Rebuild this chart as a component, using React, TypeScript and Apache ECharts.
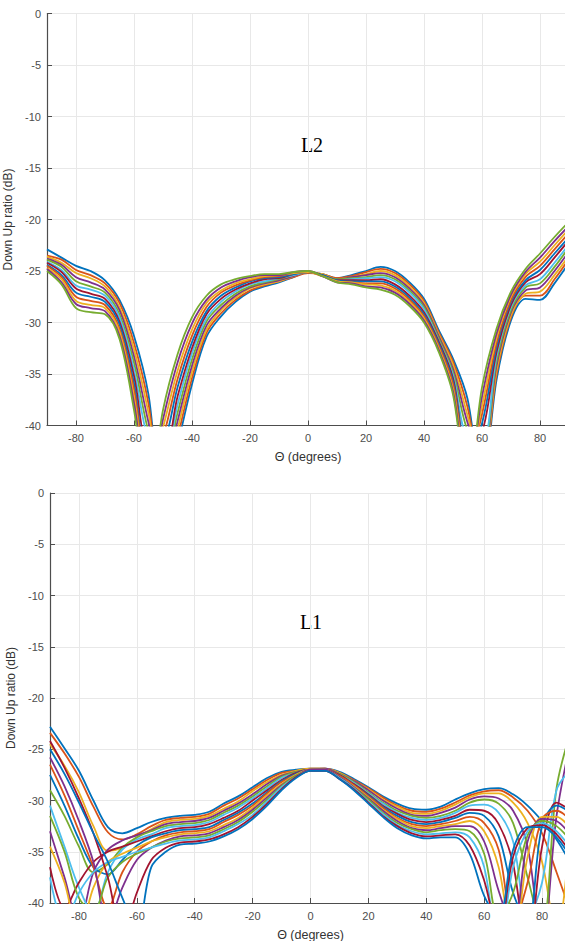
import React, { useEffect, useRef } from 'react';
import * as echarts from 'echarts';

// Angle samples (degrees) shared by every curve
const THETA = [-90, -85, -80, -75, -70, -65, -60, -55, -50, -45, -40, -35, -30, -25, -20, -15, -10, -5, 0, 5, 10, 15, 20, 25, 30, 35, 40, 45, 50, 55, 60, 65, 70, 75, 80, 85, 90];
const X_TICKS = [-80, -60, -40, -20, 0, 20, 40, 60, 80];

// ---- L2 (upper panel) curves, dB ----
const l2c00 = [-22.9, -23.7, -24.5, -25.0, -25.9, -27.8, -31.3, -37.0, -48.0, -42.0, -36.0, -31.4, -29.4, -28.0, -27.0, -26.5, -26.1, -25.6, -25.1, -25.3, -25.7, -25.4, -25.0, -24.6, -25.0, -26.1, -27.7, -30.7, -33.5, -37.4, -46.0, -35.6, -29.8, -27.7, -27.8, -26.2, -24.2];
const l2c01 = [-23.5, -23.9, -24.9, -25.4, -26.2, -28.1, -32.0, -37.9, -47.1, -41.2, -35.4, -31.0, -29.1, -27.8, -26.9, -26.4, -26.0, -25.6, -25.2, -25.3, -25.7, -25.5, -25.1, -24.8, -25.2, -26.3, -27.9, -30.9, -33.8, -38.2, -45.1, -35.1, -29.5, -27.4, -27.4, -25.8, -23.8];
const l2c02 = [-23.6, -24.2, -25.2, -25.7, -26.5, -28.5, -32.6, -38.8, -46.3, -40.4, -34.8, -30.7, -28.8, -27.6, -26.7, -26.3, -26.0, -25.5, -25.1, -25.3, -25.8, -25.6, -25.3, -25.0, -25.4, -26.5, -28.1, -31.1, -34.1, -39.0, -44.2, -34.7, -29.3, -27.2, -27.0, -25.4, -23.5];
const l2c03 = [-23.8, -24.4, -25.6, -26.1, -26.8, -28.8, -33.3, -39.7, -45.4, -39.6, -34.2, -30.3, -28.6, -27.4, -26.6, -26.2, -25.9, -25.5, -25.1, -25.4, -25.8, -25.6, -25.4, -25.2, -25.6, -26.7, -28.3, -31.3, -34.5, -39.7, -43.4, -34.2, -29.0, -26.9, -26.6, -25.0, -23.1];
const l2c04 = [-23.9, -24.6, -26.0, -26.5, -27.1, -29.2, -33.9, -40.6, -44.5, -38.8, -33.6, -29.9, -28.3, -27.2, -26.5, -26.1, -25.8, -25.4, -25.1, -25.4, -25.8, -25.7, -25.6, -25.4, -25.8, -26.9, -28.5, -31.5, -34.8, -40.5, -42.5, -33.8, -28.8, -26.6, -26.2, -24.6, -22.7];
const l2c05 = [-24.1, -24.9, -26.4, -26.8, -27.4, -29.5, -34.6, -41.5, -43.7, -38.0, -33.0, -29.6, -28.0, -27.0, -26.3, -26.0, -25.7, -25.4, -25.1, -25.4, -25.9, -25.8, -25.7, -25.6, -26.0, -27.1, -28.7, -31.7, -35.1, -41.3, -41.6, -33.3, -28.5, -26.4, -25.8, -24.2, -22.4];
const l2c06 = [-24.2, -25.1, -26.7, -27.2, -27.7, -29.9, -35.2, -42.5, -42.8, -37.2, -32.5, -29.2, -27.7, -26.8, -26.2, -25.8, -25.7, -25.3, -25.1, -25.4, -25.9, -25.9, -25.9, -25.8, -26.3, -27.4, -29.0, -31.8, -35.4, -42.1, -40.7, -32.9, -28.3, -26.1, -25.3, -23.7, -22.0];
const l2c07 = [-24.4, -25.4, -27.1, -27.5, -28.0, -30.2, -35.9, -43.4, -42.0, -36.3, -31.9, -28.9, -27.4, -26.6, -26.0, -25.7, -25.6, -25.3, -25.1, -25.4, -25.9, -26.0, -26.0, -26.0, -26.5, -27.6, -29.2, -32.0, -35.7, -42.9, -39.8, -32.4, -28.0, -25.9, -24.9, -23.3, -21.7];
const l2c08 = [-24.5, -25.6, -27.5, -27.9, -28.3, -30.6, -36.5, -44.3, -41.1, -35.5, -31.3, -28.5, -27.1, -26.4, -25.9, -25.6, -25.5, -25.2, -25.1, -25.5, -26.0, -26.1, -26.2, -26.2, -26.7, -27.8, -29.4, -32.2, -36.0, -43.7, -38.9, -32.0, -27.8, -25.6, -24.5, -22.9, -21.3];
const l2c09 = [-24.7, -25.8, -27.9, -28.3, -28.6, -30.9, -37.2, -45.2, -40.2, -34.7, -30.7, -28.1, -26.9, -26.2, -25.8, -25.5, -25.4, -25.2, -25.1, -25.5, -26.0, -26.1, -26.3, -26.4, -26.9, -28.0, -29.6, -32.4, -36.4, -44.4, -38.1, -31.5, -27.5, -25.3, -24.1, -22.5, -20.9];
const l2c10 = [-24.8, -26.1, -28.2, -28.6, -28.9, -31.3, -37.8, -46.1, -39.4, -33.9, -30.1, -27.8, -26.6, -26.0, -25.6, -25.4, -25.4, -25.1, -25.0, -25.5, -26.1, -26.2, -26.5, -26.6, -27.1, -28.2, -29.8, -32.6, -36.7, -45.2, -37.2, -31.1, -27.3, -25.1, -23.7, -22.1, -20.6];
const l2c11 = [-25.0, -26.3, -28.6, -29.0, -29.2, -31.6, -38.5, -47.0, -38.5, -33.1, -29.5, -27.4, -26.3, -25.8, -25.5, -25.3, -25.3, -25.1, -25.0, -25.5, -26.1, -26.3, -26.6, -26.8, -27.3, -28.4, -30.0, -32.8, -37.0, -46.0, -36.3, -30.6, -27.0, -24.8, -23.3, -21.7, -20.2];
const L2_CURVES = [l2c00, l2c01, l2c02, l2c03, l2c04, l2c05, l2c06, l2c07, l2c08, l2c09, l2c10, l2c11];

// ---- L1 (lower panel) curves, dB ----
const l1c00 = [-22.8, -24.9, -27.1, -30.0, -32.6, -33.2, -32.7, -32.1, -31.7, -31.5, -31.4, -31.1, -30.3, -29.6, -28.7, -27.8, -27.2, -27.0, -26.9, -26.9, -27.2, -27.9, -28.7, -29.6, -30.3, -30.8, -30.9, -30.6, -29.9, -29.3, -28.9, -28.8, -29.4, -30.5, -32.0, -33.8, -36.2];
const l1c01 = [-23.4, -25.4, -27.7, -30.6, -33.1, -33.8, -33.3, -32.5, -31.9, -31.7, -31.6, -31.3, -30.5, -29.8, -28.9, -28.0, -27.3, -27.1, -26.9, -26.9, -27.3, -28.0, -28.8, -29.7, -30.5, -31.0, -31.1, -30.8, -30.2, -29.5, -29.1, -29.0, -29.7, -31.0, -33.2, -37.0, -41.0];
const l1c02 = [-24.5, -26.6, -29.2, -32.5, -34.9, -34.6, -33.6, -32.8, -32.1, -31.9, -31.8, -31.5, -30.8, -30.1, -29.1, -28.2, -27.5, -27.1, -26.9, -26.9, -27.3, -28.1, -28.9, -29.9, -30.6, -31.2, -31.3, -31.0, -30.4, -29.7, -29.3, -29.3, -30.2, -32.2, -36.0, -43.0, -32.0];
const l1c03 = [-33.0, -37.5, -42.0, -37.0, -34.8, -33.9, -33.4, -32.9, -32.3, -32.1, -32.0, -31.7, -31.0, -30.3, -29.4, -28.4, -27.6, -27.2, -27.0, -26.9, -27.4, -28.1, -29.0, -30.0, -30.8, -31.4, -31.5, -31.2, -30.7, -29.9, -29.6, -29.8, -31.0, -34.5, -44.0, -31.5, -24.0];
const l1c04 = [-29.0, -31.5, -34.5, -37.0, -36.2, -34.6, -33.6, -33.0, -32.5, -32.3, -32.2, -31.9, -31.2, -30.5, -29.6, -28.6, -27.7, -27.2, -27.0, -27.0, -27.4, -28.2, -29.2, -30.2, -31.0, -31.5, -31.7, -31.5, -31.0, -30.2, -29.9, -30.3, -32.2, -37.5, -42.5, -28.8, -23.2];
const l1c05 = [-30.5, -34.5, -38.5, -41.0, -37.0, -34.8, -33.8, -33.3, -32.7, -32.5, -32.4, -32.1, -31.4, -30.7, -29.8, -28.8, -27.8, -27.3, -27.0, -27.0, -27.5, -28.3, -29.3, -30.3, -31.2, -31.7, -31.9, -31.7, -31.2, -30.5, -30.4, -31.2, -34.0, -41.5, -38.0, -29.0, -27.0];
const l1c06 = [-36.5, -40.5, -38.0, -36.0, -35.0, -34.5, -34.0, -33.5, -33.0, -32.7, -32.6, -32.3, -31.7, -31.0, -30.0, -29.0, -28.0, -27.3, -27.0, -27.0, -27.5, -28.4, -29.4, -30.5, -31.3, -31.9, -32.1, -31.9, -31.5, -30.9, -31.0, -32.3, -36.2, -45.0, -34.5, -30.2, -31.0];
const l1c07 = [-27.5, -30.5, -33.8, -36.5, -37.2, -35.8, -34.4, -33.6, -33.2, -32.9, -32.8, -32.6, -31.9, -31.2, -30.3, -29.2, -28.1, -27.4, -27.0, -27.0, -27.6, -28.5, -29.5, -30.6, -31.5, -32.1, -32.3, -32.1, -31.7, -31.2, -31.5, -33.5, -39.0, -42.0, -32.5, -30.5, -31.2];
const l1c08 = [-26.5, -29.5, -33.0, -36.5, -40.5, -37.0, -35.0, -34.0, -33.4, -33.1, -33.0, -32.8, -32.1, -31.4, -30.5, -29.3, -28.2, -27.5, -27.0, -27.0, -27.6, -28.5, -29.6, -30.7, -31.7, -32.3, -32.5, -32.3, -32.0, -31.6, -32.2, -34.8, -42.0, -38.0, -31.8, -31.0, -32.0];
const l1c09 = [-34.5, -38.0, -43.0, -38.5, -36.0, -35.2, -34.6, -34.0, -33.6, -33.3, -33.2, -33.0, -32.4, -31.7, -30.7, -29.5, -28.4, -27.5, -27.0, -27.0, -27.7, -28.6, -29.7, -30.9, -31.8, -32.5, -32.7, -32.5, -32.3, -32.0, -33.0, -36.5, -44.0, -35.5, -31.6, -31.6, -32.8];
const l1c10 = [-25.8, -28.6, -32.0, -36.0, -42.0, -38.5, -35.8, -34.6, -33.9, -33.5, -33.4, -33.2, -32.6, -31.9, -30.9, -29.7, -28.5, -27.6, -27.0, -27.0, -27.7, -28.7, -29.8, -31.0, -32.0, -32.7, -32.9, -32.7, -32.5, -32.5, -34.0, -38.8, -42.5, -34.0, -31.8, -32.0, -33.5];
const l1c11 = [-31.5, -35.0, -39.5, -40.8, -37.5, -36.0, -35.2, -34.6, -34.0, -33.7, -33.6, -33.4, -32.8, -32.1, -31.1, -29.9, -28.6, -27.6, -27.1, -27.1, -27.8, -28.8, -29.9, -31.2, -32.2, -32.8, -33.1, -32.9, -32.8, -33.0, -35.2, -41.5, -39.0, -33.4, -32.0, -32.5, -34.0];
const l1c12 = [-37.5, -42.0, -39.0, -37.0, -36.0, -35.5, -35.0, -34.6, -34.2, -33.9, -33.8, -33.6, -33.0, -32.3, -31.4, -30.1, -28.7, -27.7, -27.1, -27.1, -27.8, -28.8, -30.1, -31.3, -32.4, -33.0, -33.3, -33.2, -33.1, -33.6, -36.5, -44.5, -36.5, -33.0, -32.2, -33.0, -34.7];
const l1c13 = [-24.2, -26.8, -29.8, -33.2, -37.5, -43.0, -39.0, -35.8, -34.6, -34.1, -34.0, -33.8, -33.3, -32.6, -31.6, -30.3, -28.9, -27.7, -27.1, -27.1, -27.9, -28.9, -30.2, -31.5, -32.5, -33.2, -33.5, -33.4, -33.3, -34.4, -37.8, -43.0, -35.5, -32.7, -32.4, -33.3, -35.2];
const l1c14 = [-25.0, -27.4, -30.2, -33.2, -36.0, -39.5, -42.5, -36.5, -35.0, -34.3, -34.2, -34.0, -33.5, -32.8, -31.8, -30.5, -29.0, -27.8, -27.1, -27.1, -27.9, -29.0, -30.3, -31.6, -32.7, -33.4, -33.7, -33.6, -33.6, -35.2, -39.3, -41.5, -34.8, -32.6, -32.6, -33.6, -35.6];
const L1_CURVES = [l1c00, l1c01, l1c02, l1c03, l1c04, l1c05, l1c06, l1c07, l1c08, l1c09, l1c10, l1c11, l1c12, l1c13, l1c14];

const PALETTE = ['#0072BD', '#D95319', '#EDB120', '#7E2F8E', '#77AC30', '#4DBEEE', '#A2142F'];
const AXIS_COLOR = '#4d4d4d';
const FONT = '"Liberation Sans", Arial, Helvetica, sans-serif';

export default function App() {
  const ref = useRef<HTMLDivElement>(null);

  useEffect(() => {
    if (!ref.current) return;
    const chart = echarts.init(ref.current, null, { renderer: 'svg' });

    const makeX = (gridIndex: number) => ({
      type: 'value',
      gridIndex,
      min: -90,
      max: 90,
      name: 'Θ (degrees)',
      nameLocation: 'middle',
      nameGap: 25,
      nameTextStyle: { color: '#333', fontSize: 12.5, fontFamily: FONT },
      axisLine: { show: true, onZero: false, lineStyle: { color: AXIS_COLOR, width: 1.2 } },
      axisTick: { show: true, inside: true, length: 5, customValues: X_TICKS, lineStyle: { color: AXIS_COLOR } },
      axisLabel: { customValues: X_TICKS, color: '#4d4d4d', fontSize: 11, fontFamily: FONT, margin: 7 },
      splitLine: { show: true, lineStyle: { color: '#e8e8e8', width: 1 } },
    });
    const makeY = (gridIndex: number) => ({
      type: 'value',
      gridIndex,
      min: -40,
      max: 0,
      interval: 5,
      name: 'Down Up ratio (dB)',
      nameLocation: 'middle',
      nameGap: 27,
      nameTextStyle: { color: '#333', fontSize: 12, fontFamily: FONT },
      axisLine: { show: true, onZero: false, lineStyle: { color: AXIS_COLOR, width: 1.2 } },
      axisTick: { show: true, inside: true, length: 5, lineStyle: { color: AXIS_COLOR } },
      axisLabel: { color: '#4d4d4d', fontSize: 11, fontFamily: FONT, margin: 6 },
      splitLine: { show: true, lineStyle: { color: '#e8e8e8', width: 1 } },
    });

    const mkSeries = (curves: number[][], idx: number) =>
      curves.map((c, k) => ({
        type: 'line',
        xAxisIndex: idx,
        yAxisIndex: idx,
        data: THETA.map((t, i) => [t, c[i]]),
        showSymbol: false,
        smooth: 0.35,
        clip: true,
        silent: true,
        lineStyle: { width: 1.8, color: PALETTE[k % PALETTE.length] },
        z: 2,
      }));

    chart.setOption({
      animation: false,
      backgroundColor: '#ffffff',
      grid: [
        { left: 47, top: 13.5, width: 522, height: 412, outerBoundsMode: 'none', containLabel: false },
        { left: 50, top: 493, width: 521, height: 410, outerBoundsMode: 'none', containLabel: false },
      ],
      xAxis: [makeX(0), makeX(1)],
      yAxis: [makeY(0), makeY(1)],
      series: [...mkSeries(L2_CURVES, 0), ...mkSeries(L1_CURVES, 1)],
      graphic: [
        {
          type: 'text',
          x: 312,
          y: 145,
          style: { text: 'L2', font: '20px "Liberation Serif", "Times New Roman", serif', fill: '#000', textAlign: 'center', textVerticalAlign: 'middle' },
        },
        {
          type: 'text',
          x: 311,
          y: 622,
          style: { text: 'L1', font: '20px "Liberation Serif", "Times New Roman", serif', fill: '#000', textAlign: 'center', textVerticalAlign: 'middle' },
        },
      ],
    });

    return () => chart.dispose();
  }, []);

  return <div ref={ref} style={{ position: 'absolute', left: 0, top: 0, width: 565, height: 941 }} />;
}
